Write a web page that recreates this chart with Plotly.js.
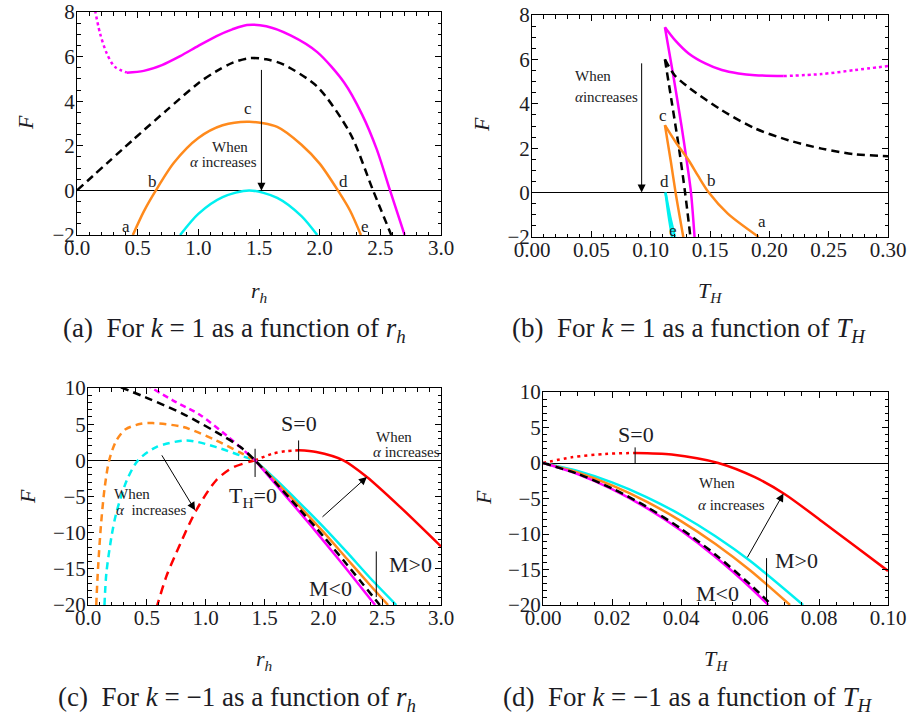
<!DOCTYPE html>
<html><head><meta charset="utf-8">
<script src="https://cdn.plot.ly/plotly-3.0.1.min.js"></script>
<style>html,body{margin:0;padding:0;background:#fff;}#chart{width:911px;height:715px;}</style>
</head><body><div id="chart"></div>
<script>
// ---------- Panel (a): k=1, F vs r_h ----------
const aMagDotX = [0.13, 0.19, 0.245, 0.31, 0.41];
const aMagDotY = [8.6, 7.04, 6.15, 5.55, 5.28];
const aMagX = [0.41, 0.55, 0.70, 0.85, 1.00, 1.15, 1.28, 1.40, 1.56, 1.76, 1.98, 2.20, 2.35, 2.47, 2.58, 2.70];
const aMagY = [5.28, 5.36, 5.62, 6.02, 6.48, 6.92, 7.22, 7.42, 7.36, 6.95, 6.20, 4.85, 3.40, 1.85, 0, -2];
const aBlkX = [0, 0.46, 0.74, 1.01, 1.15, 1.28, 1.42, 1.56, 1.70, 1.98, 2.25, 2.44, 2.59];
const aBlkY = [0, 2.26, 3.60, 4.85, 5.35, 5.72, 5.93, 5.88, 5.65, 4.65, 2.57, 0, -2];
const aOrX = [0.46, 0.55, 0.65, 0.80, 1.00, 1.20, 1.42, 1.65, 1.85, 2.00, 2.15, 2.25, 2.34];
const aOrY = [-2, -0.95, 0, 1.25, 2.35, 2.92, 3.08, 2.85, 2.05, 1.20, 0, -0.9, -2];
const aCyX = [0.85, 1.0, 1.2, 1.42, 1.65, 1.85, 1.98];
const aCyY = [-2, -1.05, -0.3, 0, -0.33, -1.15, -2];
const aLabels = ['a', 'b', 'c', 'd', 'e'];
const aLabelX = [0.40, 0.62, 1.41, 2.2, 2.37];
const aLabelY = [-1.6, 0.4, 3.68, 0.4, -1.63];

// ---------- Panel (b): k=1, F vs T_H ----------
const bMagDotX = [0.212, 0.244, 0.272, 0.30];
const bMagDotY = [5.25, 5.34, 5.52, 5.70];
const bMagUpX = [0.112, 0.1205, 0.132, 0.146, 0.160, 0.174, 0.188, 0.212];
const bMagUpY = [7.45, 6.87, 6.27, 5.82, 5.52, 5.37, 5.29, 5.25];
const bMagLoX = [0.112, 0.119, 0.126, 0.131, 0.134, 0.137];
const bMagLoY = [7.45, 5.3, 3.0, 1.2, 0, -2];
const bBlkUpX = [0.112, 0.120, 0.132, 0.160, 0.188, 0.216, 0.244, 0.272, 0.30];
const bBlkUpY = [6.0, 5.3, 4.74, 3.71, 2.89, 2.36, 1.98, 1.73, 1.64];
const bBlkLoX = [0.112, 0.118, 0.124, 0.129, 0.1335];
const bBlkLoY = [6.0, 4.0, 1.95, 0, -2];
const bOrUpX = [0.112, 0.122, 0.132, 0.140, 0.149, 0.165, 0.191];
const bOrUpY = [3.04, 2.2, 1.46, 0.75, 0, -0.95, -2];
const bOrLoX = [0.112, 0.117, 0.121, 0.1275];
const bOrLoY = [3.04, 1.4, 0, -2];
const bCyUpX = [0.1125, 0.1165, 0.1205];
const bCyUpY = [0, -1.1, -2];
const bCyLoX = [0.1125, 0.1150, 0.1180];
const bCyLoY = [0, -1.0, -2];
const bLabels = ['c', 'b', 'a', 'd', 'e'];
const bLabelX = [0.1107, 0.151, 0.1935, 0.112, 0.119];
const bLabelY = [3.49, 0.56, -1.32, 0.48, -1.7];

// ---------- Panel (c): k=-1, F vs r_h ----------
const cMagDashX = [0.49, 0.72, 0.95, 1.18, 1.42];
const cMagDashY = [10.5, 8.3, 6.3, 3.4, 0];
const cMagX = [1.42, 1.6, 1.8, 2.0, 2.2, 2.44];
const cMagY = [0, -3.4, -7.2, -11.1, -15.1, -20];
const cBlkX = [0.28, 0.52, 0.81, 1.09, 1.29, 1.42, 1.6, 1.8, 2.0, 2.2, 2.48];
const cBlkY = [10.1, 8.5, 6.4, 3.9, 1.9, 0, -3.2, -6.8, -10.5, -14.4, -20];
const cOrDashX = [0.07, 0.085, 0.11, 0.14, 0.18, 0.24, 0.32, 0.45, 0.55, 0.81, 1.09, 1.29, 1.42];
const cOrDashY = [-20, -15, -9, -4, 0, 2.7, 4.3, 5.05, 5.15, 4.6, 2.75, 1.1, 0];
const cOrX = [1.42, 1.6, 1.8, 2.0, 2.2, 2.4, 2.55];
const cOrY = [0, -3.0, -6.4, -9.9, -13.6, -17.3, -20];
const cCyDashX = [0.14, 0.156, 0.20, 0.24, 0.33, 0.425, 0.58, 0.84, 1.09, 1.29, 1.42];
const cCyDashY = [-20, -15.6, -10.5, -7.3, -2.75, 0, 1.83, 2.75, 1.83, 0.7, 0];
const cCyX = [1.42, 1.6, 1.8, 2.0, 2.2, 2.4, 2.62];
const cCyY = [0, -2.7, -5.9, -9.2, -12.7, -16.3, -20];
const cRedDashX = [0.58, 0.666, 0.75, 0.92, 1.09, 1.23, 1.42];
const cRedDashY = [-20.5, -16.05, -12.8, -6.9, -2.75, -1.0, 0];
const cRedDotX = [1.42, 1.57, 1.69, 1.79];
const cRedDotY = [0, 0.92, 1.28, 1.38];
const cRedX = [1.79, 1.94, 2.17, 2.37, 2.65, 3.0];
const cRedY = [1.38, 1.15, 0, -2.3, -6.4, -11.9];
const cMarkX = [1.42, 1.79, 2.45];
const cMarkY0 = [-2.3, 0, -12.6];
const cMarkY1 = [1.6, 2.75, -18.9];

// ---------- Panel (d): k=-1, F vs T_H ----------
const dRedDotX = [0, 0.0083, 0.018, 0.0267];
const dRedDotY = [0, 0.8, 1.27, 1.42];
const dRedX = [0.0267, 0.0373, 0.0508, 0.0614, 0.0701, 0.0808, 0.0904, 0.10];
const dRedY = [1.42, 1.2, 0, -2.0, -4.4, -8.2, -11.7, -15.2];
const dMagX = [0, 0.01, 0.02, 0.03, 0.04, 0.05, 0.06, 0.0653];
const dMagY = [0, -1.57, -3.68, -6.33, -9.52, -13.25, -17.5, -20];
const dBlkX = [0, 0.01, 0.02, 0.03, 0.04, 0.05, 0.06, 0.0663];
const dBlkY = [0, -1.52, -3.57, -6.15, -9.26, -12.91, -17.09, -20];
const dOrX = [0, 0.01, 0.02, 0.03, 0.04, 0.05, 0.06, 0.0716];
const dOrY = [0, -1.34, -3.15, -5.43, -8.18, -11.41, -15.11, -20];
const dCyX = [0, 0.01, 0.02, 0.03, 0.04, 0.05, 0.06, 0.0754];
const dCyY = [0, -1.13, -2.73, -4.79, -7.32, -10.31, -13.77, -20];
const dMarkX = [0.0267, 0.0648];
const dMarkY0 = [0, -13.4];
const dMarkY1 = [2.2, -19.5];

// ---------- styling ----------
const MAG = '#ff00ff', ORG = '#ff8a1c', CYN = '#00f0f0', RED = '#ff0000', BLK = '#000000';
const W = 911, H = 715;
const SERIF = 'Liberation Serif';
const TXT = '#1c1c24';

function ln(x, y, ax, color, dash) {
  return {x: x, y: y, xaxis: 'x' + ax, yaxis: 'y' + ax, type: 'scatter', mode: 'lines',
    line: {color: color, width: 2.5, dash: dash || 'solid', shape: 'spline', smoothing: 0.8},
    hoverinfo: 'skip', showlegend: false};
}
const traces = [
  ln(aMagDotX, aMagDotY, '', MAG, '3px,3px'),
  ln(aMagX, aMagY, '', MAG),
  ln(aBlkX, aBlkY, '', BLK, '8px,5px'),
  ln(aOrX, aOrY, '', ORG),
  ln(aCyX, aCyY, '', CYN),

  ln(bMagDotX, bMagDotY, '2', MAG, '3px,3px'),
  ln(bMagUpX, bMagUpY, '2', MAG),
  ln(bMagLoX, bMagLoY, '2', MAG),
  ln(bBlkUpX, bBlkUpY, '2', BLK, '8px,5px'),
  ln(bBlkLoX, bBlkLoY, '2', BLK, '8px,5px'),
  ln(bOrUpX, bOrUpY, '2', ORG),
  ln(bOrLoX, bOrLoY, '2', ORG),
  ln(bCyUpX, bCyUpY, '2', CYN),
  ln(bCyLoX, bCyLoY, '2', CYN),

  ln(cRedDashX, cRedDashY, '3', RED, '9px,6px'),
  ln(cRedDotX, cRedDotY, '3', RED, '3px,4px'),
  ln(cRedX, cRedY, '3', RED),
  ln(cCyDashX, cCyDashY, '3', CYN, '7px,5px'),
  ln(cOrDashX, cOrDashY, '3', ORG, '7px,5px'),
  ln(cCyX, cCyY, '3', CYN),
  ln(cOrX, cOrY, '3', ORG),
  ln(cMagDashX, cMagDashY, '3', MAG, '6px,4px'),
  ln(cMagX, cMagY, '3', MAG),
  ln(cBlkX, cBlkY, '3', BLK, '8px,5px'),

  ln(dRedDotX, dRedDotY, '4', RED, '3px,4px'),
  ln(dRedX, dRedY, '4', RED),
  ln(dCyX, dCyY, '4', CYN),
  ln(dOrX, dOrY, '4', ORG),
  ln(dMagX, dMagY, '4', MAG),
  ln(dBlkX, dBlkY, '4', BLK, '8px,5px')
];

function dom(p0, p1) { return [p0 / W, p1 / W]; }
function ydom(top, bot) { return [1 - bot / H, 1 - top / H]; }

function baseAx(range, dtick, mdt, d, anchor, fmt, standoff) {
  return {domain: d, range: range, anchor: anchor, tick0: 0, dtick: dtick, tickformat: fmt,
    ticks: 'inside', ticklen: 6, tickwidth: 1, tickcolor: '#000', mirror: 'ticks',
    showline: true, linecolor: '#000', linewidth: 1, showgrid: false, zeroline: false,
    ticklabelstandoff: standoff,
    tickfont: {family: SERIF, size: 21, color: TXT},
    minor: {dtick: mdt, tick0: 0, ticks: 'inside', ticklen: 3.5, tickwidth: 1, tickcolor: '#000', showgrid: false},
    fixedrange: true};
}
function xax(range, dtick, mdt, d, anchor, fmt) { return baseAx(range, dtick, mdt, d, anchor, fmt, -6); }
function yax(range, dtick, mdt, d, anchor) {
  const a = baseAx(range, dtick, mdt, d, anchor, 'd', -3);
  a.zeroline = true; a.zerolinecolor = '#000'; a.zerolinewidth = 1;
  return a;
}

const layout = {
  width: W, height: H, margin: {l: 0, r: 0, t: 0, b: 0},
  paper_bgcolor: '#fff', plot_bgcolor: '#fff', showlegend: false,
  xaxis: xax([0, 3], 0.5, 0.1, dom(77, 441), 'y', '.1f'),
  yaxis: yax([-2, 8], 2, 0.5, ydom(12, 235), 'x'),
  xaxis2: xax([0, 0.30], 0.05, 0.01, dom(532, 888), 'y2', '.2f'),
  yaxis2: yax([-2, 8], 2, 0.5, ydom(15, 237), 'x2'),
  xaxis3: xax([0, 3], 0.5, 0.1, dom(88, 441), 'y3', '.1f'),
  yaxis3: yax([-20, 10], 5, 1, ydom(388, 605), 'x3'),
  xaxis4: xax([0, 0.10], 0.02, 0.005, dom(543, 888), 'y4', '.2f'),
  yaxis4: yax([-20, 10], 5, 1, ydom(392, 605), 'x4'),
  annotations: [],
  shapes: []
};

const ann = layout.annotations;
function ptxt(text, x, y, size, angle) {
  ann.push({text: text, x: x / W, y: 1 - y / H, xref: 'paper', yref: 'paper', showarrow: false,
    xanchor: 'center', yanchor: 'middle', textangle: angle || 0,
    font: {family: SERIF, size: size, color: TXT}});
}
function dtxt(text, x, y, ax, size) {
  ann.push({text: text, x: x, y: y, xref: 'x' + ax, yref: 'y' + ax, showarrow: false,
    xanchor: 'center', yanchor: 'middle', font: {family: SERIF, size: size, color: TXT}});
}
function arrow(tx, ty, hx, hy, ax) {
  ann.push({text: '', x: hx, y: hy, ax: tx, ay: ty, xref: 'x' + ax, yref: 'y' + ax,
    axref: 'x' + ax, ayref: 'y' + ax, showarrow: true, arrowhead: 2, arrowsize: 1.6,
    arrowwidth: 1, arrowcolor: '#000', standoff: 0});
}

const S = '\u00a0';
// axis titles and captions
ptxt('<i>F</i>', 25, 123, 22, -90);
ptxt('<i>F</i>', 482, 125, 22, -90);
ptxt('<i>F</i>', 27, 497, 22, -90);
ptxt('<i>F</i>', 483, 498, 22, -90);
ptxt('<i>r<sub>h</sub></i>', 259, 292, 22);
ptxt('<i>T<sub>H</sub></i>', 710, 292, 22);
ptxt('<i>r<sub>h</sub></i>', 264, 660, 22);
ptxt('<i>T<sub>H</sub></i>', 716, 660, 22);
ptxt('(a)' + S + S + 'For <i>k</i>' + S + '=' + S + '1 as a function of <i>r<sub>h</sub></i>', 235, 330, 27);
ptxt('(b)' + S + S + 'For <i>k</i>' + S + '=' + S + '1 as a function of <i>T<sub>H</sub></i>', 689, 330, 27);
ptxt('(c)' + S + S + 'For <i>k</i>' + S + '=' + S + '−1 as a function of <i>r<sub>h</sub></i>', 237, 699, 27);
ptxt('(d)' + S + S + 'For <i>k</i>' + S + '=' + S + '−1 as a function of <i>T<sub>H</sub></i>', 687, 699, 27);

// panel (a) texts
aLabels.forEach((s, i) => dtxt(s, aLabelX[i], aLabelY[i], '', 17));
dtxt('When', 1.26, 1.96, '', 15);
dtxt('<i>α</i> increases', 1.21, 1.26, '', 15);
arrow(1.52, 5.47, 1.52, -0.02, '');

// panel (b) texts
bLabels.forEach((s, i) => dtxt(s, bLabelX[i], bLabelY[i], '2', 17));
dtxt('When', 0.0517, 5.25, '2', 15);
dtxt('<i>α</i>increases', 0.063, 4.29, '2', 15);
arrow(0.0924, 5.89, 0.0924, 0, '2');

// panel (c) texts
dtxt('S=0', 1.79, 5.05, '3', 22);
dtxt('T<sub>H</sub>=0', 1.40, -5.05, '3', 22);
dtxt('When', 2.60, 3.2, '3', 15);
dtxt('<i>α</i> increases', 2.71, 1.15, '3', 15);
dtxt('When', 0.374, -4.6, '3', 15);
dtxt('<i>α</i>' + S + S + 'increases', 0.54, -6.9, '3', 15);
dtxt('M>0', 2.74, -14.4, '3', 22);
dtxt('M<0', 2.06, -17.7, '3', 22);
arrow(0.62, 0.9, 0.91, -6.9, '3');
arrow(1.98, -8.0, 2.37, -2.3, '3');

// panel (d) texts
dtxt('S=0', 0.0269, 4.0, '4', 22);
dtxt('When', 0.0505, -2.88, '4', 15);
dtxt('<i>α</i> increases', 0.0547, -5.9, '4', 15);
dtxt('M>0', 0.0735, -13.7, '4', 22);
dtxt('M<0', 0.0505, -18.35, '4', 22);
arrow(0.059, -13.5, 0.0697, -4.3, '4');

// vertical marker lines
cMarkX.forEach((x, i) => layout.shapes.push({type: 'line', xref: 'x3', yref: 'y3', x0: x, x1: x,
  y0: cMarkY0[i], y1: cMarkY1[i], line: {color: '#000', width: 1}}));
dMarkX.forEach((x, i) => layout.shapes.push({type: 'line', xref: 'x4', yref: 'y4', x0: x, x1: x,
  y0: dMarkY0[i], y1: dMarkY1[i], line: {color: '#000', width: 1}}));

Plotly.newPlot('chart', traces, layout, {displayModeBar: false, staticPlot: true});
</script></body></html>
